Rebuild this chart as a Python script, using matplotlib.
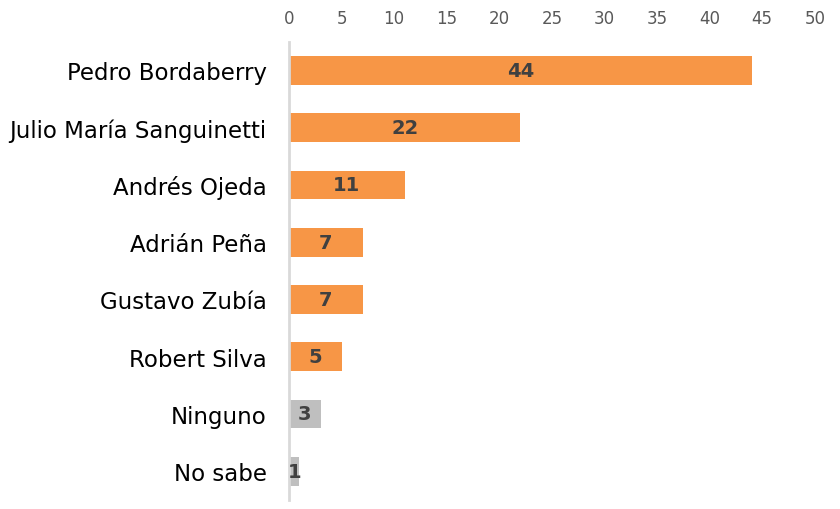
import matplotlib.pyplot as plt

names = ["Pedro Bordaberry", "Julio María Sanguinetti", "Andrés Ojeda", "Adrián Peña",
         "Gustavo Zubía", "Robert Silva", "Ninguno", "No sabe"]
values = [44, 22, 11, 7, 7, 5, 3, 1]
colors = ["#F79646"] * 6 + ["#BFBFBF"] * 2
ticks = [0, 5, 10, 15, 20, 25, 30, 35, 40, 45, 50]

fig = plt.figure(figsize=(8.4, 5.1), dpi=100)
ax = fig.add_axes([0.344, 0.018, 0.626, 0.898])

ypos = list(range(len(names)))
ax.barh(ypos, values, height=0.5, color=colors)

# value labels in the middle of each bar
for y, v in zip(ypos, values):
    ax.text(v / 2, y, str(v), ha="center", va="center", fontsize=14,
            fontweight="bold", color="#404040")

ax.set_xlim(0, 50)
ax.set_ylim(7.5, -0.5)
ax.set_yticks(ypos)
ax.set_yticklabels(names, fontsize=16.5, color="#000000")
ax.set_xticks(ticks)
ax.set_xticklabels([str(t) for t in ticks], fontsize=12, color="#595959")
ax.xaxis.tick_top()
ax.tick_params(axis="x", length=0, pad=11)
ax.tick_params(axis="y", length=0, pad=16)

for s in ["top", "right", "bottom"]:
    ax.spines[s].set_visible(False)
ax.spines["left"].set_color("#D9D9D9")
ax.spines["left"].set_linewidth(2)

fig.savefig("out.png", dpi=100)
